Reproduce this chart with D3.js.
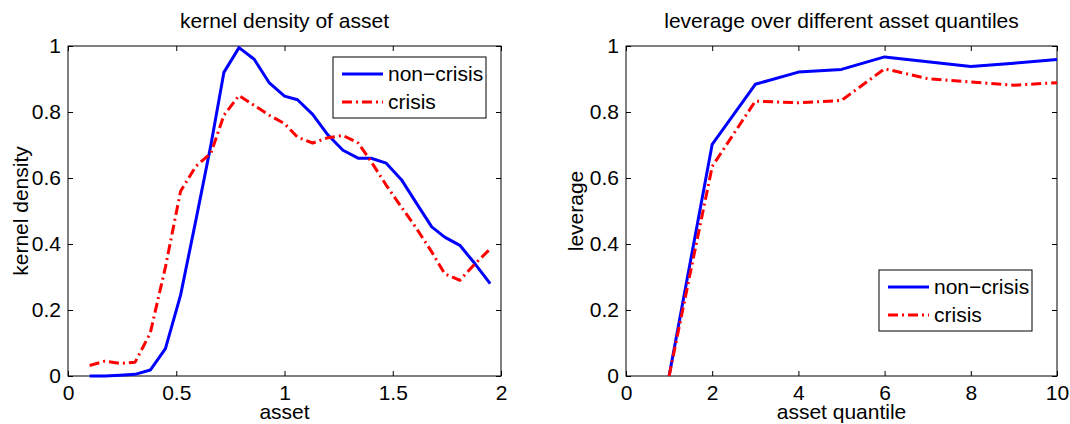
<!DOCTYPE html>
<html>
<head>
<meta charset="utf-8">
<script src="https://d3js.org/d3.v7.min.js"></script>
<style>
  body { margin: 0; background: #ffffff; }
  svg { display: block; font-family: "Liberation Sans", Arial, sans-serif; }
  .frame { fill: none; stroke: #000; stroke-width: 1; }
  .tick-label { font-size: 21px; fill: #000; }
  .label { font-size: 21px; fill: #000; }
</style>
</head>
<body>
<div id="chart"></div>
<script>
// data
const seriesNames = ["non\u2212crisis", "crisis"];

// left panel: kernel density of asset
const assetGrid = [0.10, 0.17, 0.24, 0.31, 0.38, 0.45, 0.52, 0.59, 0.66, 0.72,
                   0.79, 0.86, 0.93, 1.00, 1.06, 1.13, 1.20, 1.27, 1.34, 1.40,
                   1.47, 1.54, 1.61, 1.68, 1.74, 1.81, 1.88, 1.95];
const densityNonCrisis = [0.000, 0.000, 0.002, 0.005, 0.018, 0.083, 0.245, 0.470, 0.700, 0.920,
                          0.995, 0.960, 0.888, 0.848, 0.837, 0.793, 0.731, 0.684, 0.660, 0.660,
                          0.645, 0.595, 0.523, 0.452, 0.421, 0.396, 0.340, 0.280];
const densityCrisis = [0.032, 0.045, 0.038, 0.042, 0.130, 0.330, 0.560, 0.635, 0.675, 0.790,
                       0.850, 0.820, 0.790, 0.765, 0.724, 0.706, 0.722, 0.729, 0.706, 0.650,
                       0.578, 0.512, 0.447, 0.376, 0.310, 0.290, 0.340, 0.385];
const assetTicks = [0, 0.5, 1, 1.5, 2];

// right panel: leverage over asset quantiles
const quantiles = [1, 2, 3, 4, 5, 6, 7, 8, 9, 10];
const leverageNonCrisis = [0, 0.702, 0.884, 0.921, 0.929, 0.967, 0.952, 0.938, 0.948, 0.959];
const leverageCrisis = [0, 0.635, 0.833, 0.828, 0.835, 0.931, 0.901, 0.891, 0.881, 0.889];
const quantileTicks = [0, 2, 4, 6, 8, 10];

const yTicks = [0, 0.2, 0.4, 0.6, 0.8, 1];

// styles
const styles = [
    {color: "#0000ff", dash: null},
    {color: "#ff0000", dash: "10,4,2,4"}
];

const W = 1070, H = 424;
const svg = d3.select("#chart").append("svg")
    .attr("width", W)
    .attr("height", H);

function drawPanel(p) {
    const g = svg.append("g");
    const x = d3.scaleLinear().domain(p.xDomain).range([p.left, p.right]);
    const y = d3.scaleLinear().domain([0, 1]).range([p.bottom, p.top]);
    const tickLen = 5;

    // ticks on all four sides, pointing in
    g.append("g")
        .attr("transform", `translate(0,${p.bottom})`)
        .call(d3.axisBottom(x).tickValues(p.xTicks).tickSizeInner(-tickLen).tickSizeOuter(0)
            .tickPadding(9).tickFormat(d3.format("")))
        .call(a => a.select(".domain").remove())
        .call(a => a.selectAll("text").attr("class", "tick-label").attr("font-size", null)
            .attr("font-family", null).attr("dy", "0.71em"));
    g.append("g")
        .attr("transform", `translate(0,${p.top})`)
        .call(d3.axisTop(x).tickValues(p.xTicks).tickSizeInner(-tickLen).tickSizeOuter(0).tickFormat(""))
        .call(a => a.select(".domain").remove());
    g.append("g")
        .attr("transform", `translate(${p.left},0)`)
        .call(d3.axisLeft(y).tickValues(yTicks).tickSizeInner(-tickLen).tickSizeOuter(0)
            .tickPadding(7).tickFormat(d3.format("")))
        .call(a => a.select(".domain").remove())
        .call(a => a.selectAll("text").attr("class", "tick-label").attr("font-size", null)
            .attr("font-family", null));
    g.append("g")
        .attr("transform", `translate(${p.right},0)`)
        .call(d3.axisRight(y).tickValues(yTicks).tickSizeInner(-tickLen).tickSizeOuter(0).tickFormat(""))
        .call(a => a.select(".domain").remove());
    g.selectAll(".tick line").attr("stroke", "#000");

    g.append("rect").attr("class", "frame")
        .attr("x", p.left).attr("y", p.top)
        .attr("width", p.right - p.left).attr("height", p.bottom - p.top);

    // lines
    const line = d3.line().x(d => x(d[0])).y(d => y(d[1]));
    p.series.forEach((vals, i) => {
        g.append("path")
            .datum(p.xs.map((v, k) => [v, vals[k]]))
            .attr("fill", "none")
            .attr("stroke", styles[i].color)
            .attr("stroke-width", 3)
            .attr("stroke-linejoin", "round")
            .attr("stroke-dasharray", styles[i].dash)
            .attr("d", line);
    });

    // texts
    const cx = (p.left + p.right) / 2;
    g.append("text").attr("class", "label").attr("x", cx).attr("y", 28)
        .attr("text-anchor", "middle").text(p.title);
    g.append("text").attr("class", "label").attr("x", cx).attr("y", 419)
        .attr("text-anchor", "middle").text(p.xLabel);
    g.append("text").attr("class", "label")
        .attr("transform", `translate(${p.yLabelX},${(p.top + p.bottom) / 2}) rotate(-90)`)
        .attr("text-anchor", "middle").text(p.yLabel);

    // legend
    const lg = g.append("g").attr("transform", `translate(${p.legend.x},${p.legend.y})`);
    lg.append("rect").attr("class", "frame").attr("width", 153).attr("height", 61)
        .style("fill", "#fff");
    seriesNames.forEach((name, i) => {
        const ry = 17 + i * 28;
        lg.append("line")
            .attr("x1", 9).attr("x2", 50).attr("y1", ry).attr("y2", ry)
            .attr("stroke", styles[i].color).attr("stroke-width", 3)
            .attr("stroke-dasharray", styles[i].dash);
        lg.append("text").attr("class", "label").attr("x", 55).attr("y", ry + 7).text(name);
    });
}

drawPanel({
    left: 68, right: 501, top: 46, bottom: 376,
    xDomain: [0, 2], xTicks: assetTicks,
    xs: assetGrid, series: [densityNonCrisis, densityCrisis],
    title: "kernel density of asset", xLabel: "asset", yLabel: "kernel density", yLabelX: 28,
    legend: {x: 333, y: 57}
});

drawPanel({
    left: 626, right: 1057, top: 46, bottom: 376,
    xDomain: [0, 10], xTicks: quantileTicks,
    xs: quantiles, series: [leverageNonCrisis, leverageCrisis],
    title: "leverage over different asset quantiles", xLabel: "asset quantile", yLabel: "leverage", yLabelX: 583,
    legend: {x: 879, y: 270}
});
</script>
</body>
</html>
